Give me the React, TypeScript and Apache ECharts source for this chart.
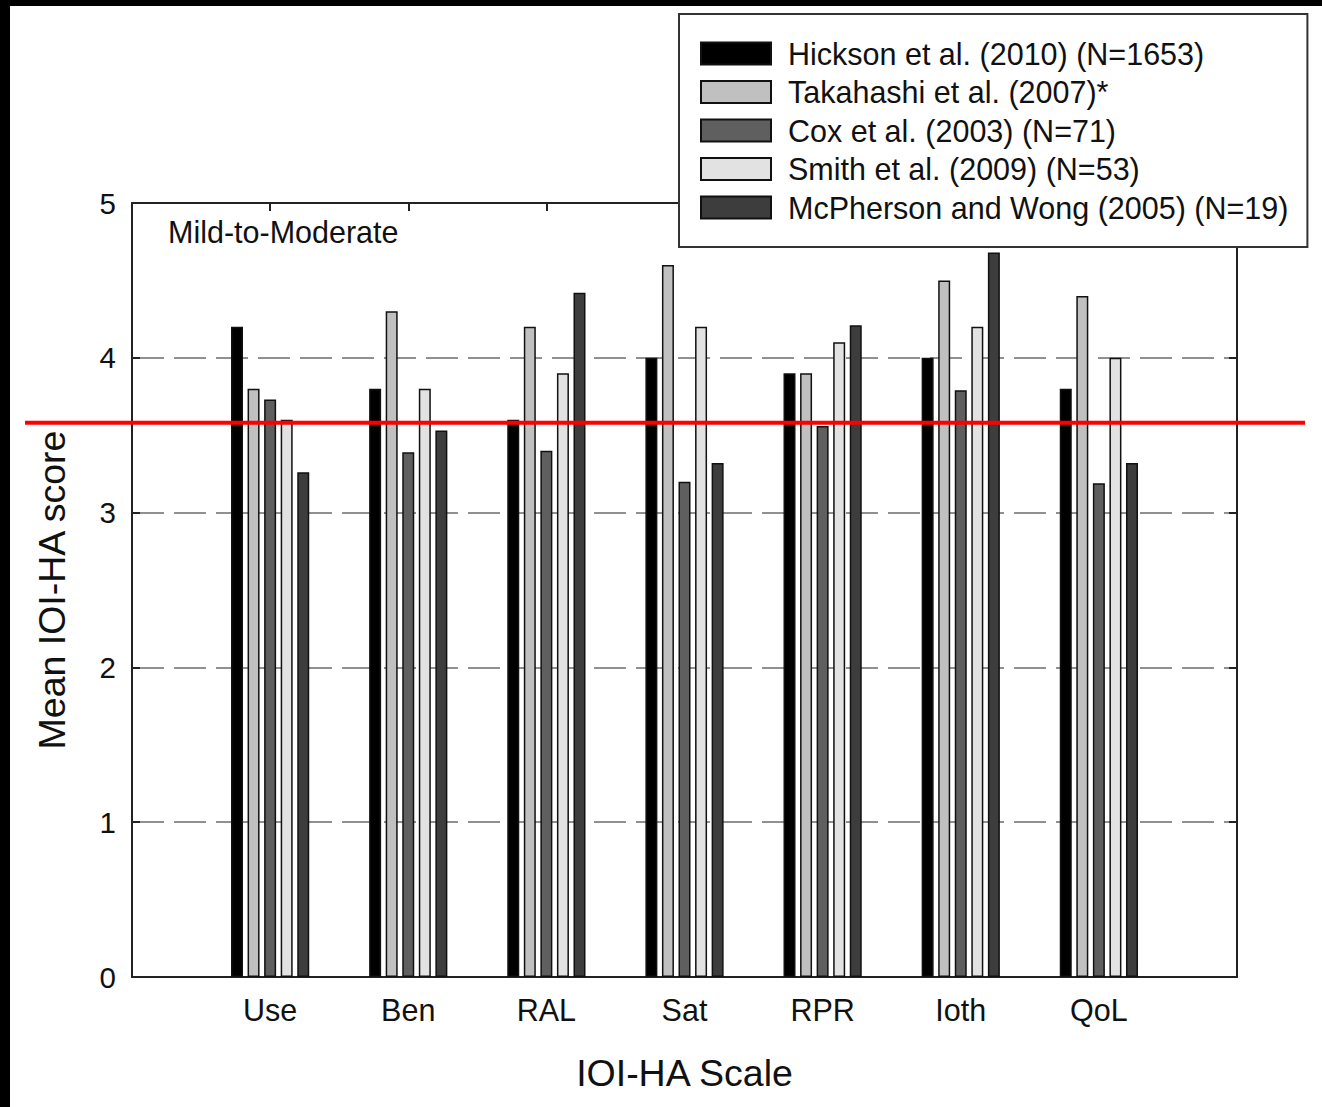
import React, { useEffect, useRef } from "react";
import * as echarts from "echarts";

const categories = ["Use", "Ben", "RAL", "Sat", "RPR", "Ioth", "QoL"];
const seriesNames = [
  "Hickson et al. (2010) (N=1653)",
  "Takahashi et al. (2007)*",
  "Cox et al. (2003) (N=71)",
  "Smith et al. (2009) (N=53)",
  "McPherson and Wong (2005) (N=19)",
];
const hickson = [4.2, 3.8, 3.6, 4.0, 3.9, 4.0, 3.8];
const takahashi = [3.8, 4.3, 4.2, 4.6, 3.9, 4.5, 4.4];
const cox = [3.73, 3.39, 3.4, 3.2, 3.56, 3.79, 3.19];
const smith = [3.6, 3.8, 3.9, 4.2, 4.1, 4.2, 4.0];
const mcpherson = [3.26, 3.53, 4.42, 3.32, 4.21, 4.68, 3.32];
const seriesColors = ["#000000", "#c0c0c0", "#5f5f5f", "#e2e2e2", "#3d3d3d"];
const yMin = 0;
const yMax = 5;
const yInterval = 1;
const redLineValue = 3.58;
const panelLabel = "Mild-to-Moderate";

const FONT = '"Liberation Sans", Arial, sans-serif';

export default function App() {
  const ref = useRef<HTMLDivElement>(null);
  useEffect(() => {
    if (!ref.current) return;
    const chart = echarts.init(ref.current, undefined, { renderer: "svg" });
    const axisData = ["", ...categories, ""];
    const pad = (arr: number[]) => ["-", ...arr, "-"];
    const allValues = [hickson, takahashi, cox, smith, mcpherson];
    const axisLine = { show: true, onZero: false, lineStyle: { color: "#222", width: 2 } };
    const tick = { show: true, inside: true, length: 8, lineStyle: { color: "#222", width: 2 } };
    chart.setOption({
      animation: false,
      backgroundColor: "#ffffff",
      textStyle: { fontFamily: FONT },
      grid: { left: 132, right: 85, top: 203, bottom: 130, containLabel: false },
      legend: {
        orient: "vertical",
        left: 679,
        top: 14,
        padding: [24, 19, 24, 21],
        backgroundColor: "#ffffff",
        borderColor: "#333",
        borderWidth: 2,
        itemWidth: 70,
        itemHeight: 22,
        itemGap: 7.5,
        icon: "rect",
        textStyle: { fontSize: 30.5, color: "#111", fontFamily: FONT, padding: [0, 0, 0, 12] },
        data: seriesNames,
      },
      xAxis: [
        {
          type: "category",
          data: axisData,
          boundaryGap: false,
          position: "bottom",
          axisLine,
          axisTick: tick,
          axisLabel: { fontSize: 30.5, color: "#111", margin: 17, fontFamily: FONT },
          splitLine: { show: false },
          name: "IOI-HA Scale",
          nameLocation: "middle",
          nameGap: 77,
          nameTextStyle: { fontSize: 37.5, color: "#111", fontFamily: FONT },
        },
        {
          type: "category",
          data: axisData,
          boundaryGap: false,
          position: "top",
          axisLine,
          axisTick: tick,
          axisLabel: { show: false },
          splitLine: { show: false },
        },
      ],
      yAxis: [
        {
          type: "value",
          min: yMin,
          max: yMax,
          interval: yInterval,
          position: "left",
          axisLine,
          axisTick: tick,
          axisLabel: { fontSize: 29.5, color: "#111", margin: 16, fontFamily: FONT },
          splitLine: { show: true, lineStyle: { color: "#909090", width: 2, type: [32, 10] } },
          name: "Mean IOI-HA score",
          nameLocation: "middle",
          nameGap: 61,
          nameTextStyle: { fontSize: 37.5, color: "#111", fontFamily: FONT },
        },
        {
          type: "value",
          min: yMin,
          max: yMax,
          interval: yInterval,
          position: "right",
          axisLine,
          axisTick: tick,
          axisLabel: { show: false },
          splitLine: { show: false },
        },
      ],
      series: seriesNames.map((name, i) => ({
        name,
        type: "bar",
        xAxisIndex: 0,
        yAxisIndex: 0,
        data: pad(allValues[i]),
        barWidth: 12,
        barGap: "38%",
        z: 3,
        itemStyle: { color: seriesColors[i], borderColor: "#111", borderWidth: 1.5 },
      })),
    });
    const yPix = chart.convertToPixel({ yAxisIndex: 0 }, redLineValue) as number;
    chart.setOption({
      graphic: [
        { type: "rect", left: 0, top: 0, shape: { width: 1322, height: 6 }, style: { fill: "#000" }, z: 200 },
        { type: "rect", left: 0, top: 0, shape: { width: 10, height: 1107 }, style: { fill: "#000" }, z: 200 },
        {
          type: "text",
          left: 168,
          top: 216,
          style: { text: panelLabel, fontSize: 30.5, fill: "#111", fontFamily: FONT },
          z: 50,
        },
        {
          type: "line",
          shape: { x1: 25, y1: yPix, x2: 1305, y2: yPix },
          style: { stroke: "#ff0000", lineWidth: 4 },
          z: 100,
        },
      ],
    });
    return () => chart.dispose();
  }, []);
  return (
    <div
      ref={ref}
      style={{ position: "fixed", left: 0, top: 0, width: 1322, height: 1107, background: "#fff" }}
    />
  );
}
